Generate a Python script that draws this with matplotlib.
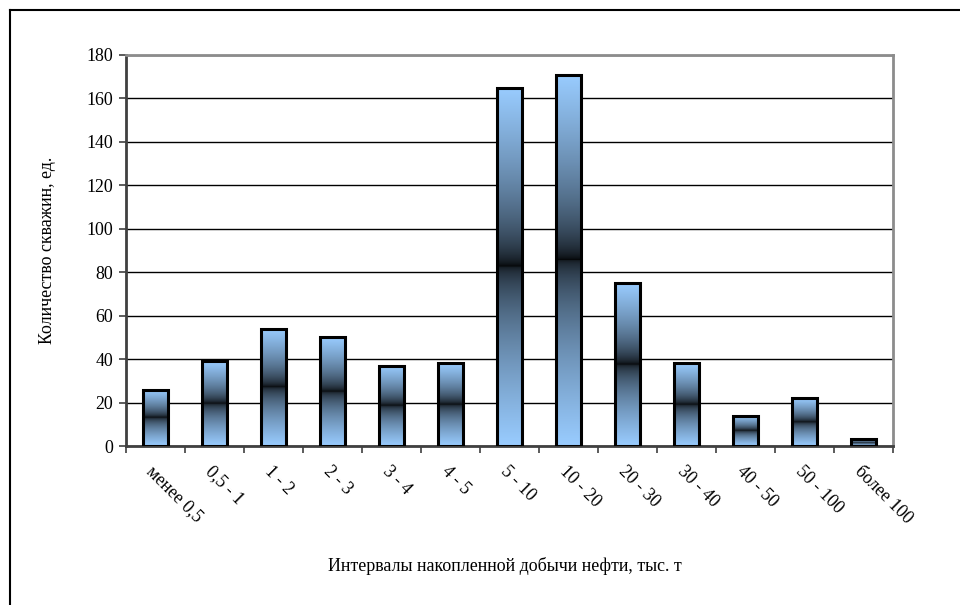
import numpy as np
import matplotlib
matplotlib.use("Agg")
import matplotlib.pyplot as plt
from matplotlib.colors import to_rgb
from matplotlib.lines import Line2D

categories = ["менее 0,5", "0,5 - 1", "1 - 2", "2 - 3", "3 - 4", "4 - 5", "5 - 10",
              "10 - 20", "20 - 30", "30 - 40", "40 - 50", "50 - 100", "более 100"]
wells = [26, 39, 54, 50, 37, 38, 165, 171, 75, 38, 14, 22, 3]
y_ticks = [0, 20, 40, 60, 80, 100, 120, 140, 160, 180]

plt.rcParams["font.family"] = ["Liberation Serif", "DejaVu Serif"]
FS = 12.9

fig = plt.figure(figsize=(9.6, 6.05), dpi=100)
ax = fig.add_axes([0.13125, 0.2628, 0.7990, 0.6463])

# frame lines around the chart area (left and top edges)
fig.add_artist(Line2D([9.5 / 960, 9.5 / 960], [0, 1 - 10 / 605], color="black", lw=1.5,
                      transform=fig.transFigure))
fig.add_artist(Line2D([9.5 / 960, 1], [1 - 10 / 605, 1 - 10 / 605], color="black", lw=1.5,
                      transform=fig.transFigure))

# vertical gradient: light blue at both ends, dark in the middle
light = np.array(to_rgb("#99CCFF"))
s = np.linspace(0, 1, 400)
t = np.abs(2 * s - 1)
shade = t ** 0.55
shade = np.where(s < 0.5, 0.1 + 0.9 * shade, shade)
grad = (shade[:, None] * light[None, :])[:, None, :]

x = np.arange(len(categories))
width = 0.42
bars = ax.bar(x, wells, width=width, facecolor="none", edgecolor="black",
              linewidth=2.2, zorder=4)
for bar, xi, h in zip(bars, x, wells):
    im = ax.imshow(grad, aspect="auto", origin="lower",
                   extent=[xi - width / 2, xi + width / 2, 0, h], zorder=3,
                   interpolation="bilinear")
    im.set_clip_path(bar)

ax.set_xlim(-0.5, len(categories) - 0.5)
ax.set_ylim(0, 180)
ax.set_yticks(y_ticks)
ax.yaxis.grid(True, color="black", linewidth=1.0, zorder=1)
ax.set_axisbelow(True)

ax.set_xticks(x)
ax.set_xticklabels(categories, rotation=-45, ha="left", va="top",
                   rotation_mode="anchor", fontsize=FS)
ax.set_xticks(np.arange(-0.5, len(categories), 1), minor=True)
ax.tick_params(axis="x", which="major", length=0, pad=12)
ax.tick_params(axis="x", which="minor", length=5, width=1.2, color="#404040", direction="out")
ax.tick_params(axis="y", length=5, width=1.2, color="#404040", direction="out",
               labelsize=FS, pad=4)

for side in ("top", "right"):
    ax.spines[side].set_color("#8c8c8c")
    ax.spines[side].set_linewidth(2)
for side in ("left", "bottom"):
    ax.spines[side].set_color("#404040")
    ax.spines[side].set_linewidth(2)

ax.set_ylabel("Количество скважин, ед.", fontsize=FS, labelpad=22)
fig.text(0.526, 1 - 566 / 605, "Интервалы накопленной добычи нефти, тыс. т",
         ha="center", va="center", fontsize=FS)

fig.savefig("out.png", dpi=100)
